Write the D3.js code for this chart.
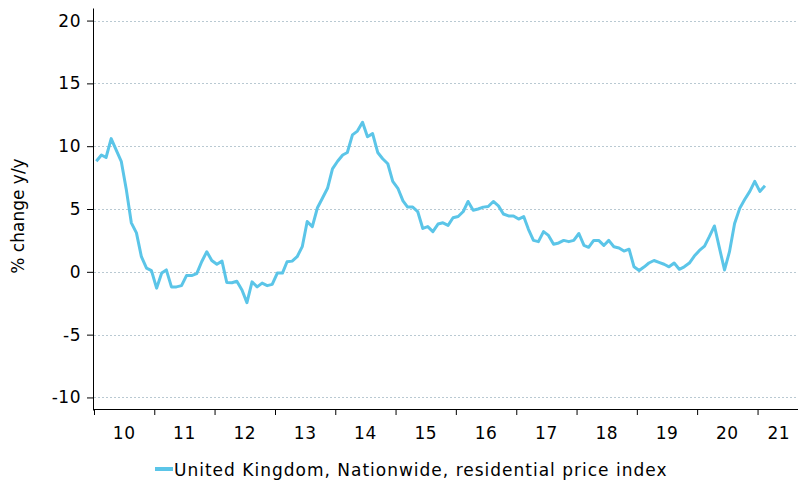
<!DOCTYPE html>
<html>
<head>
<meta charset="utf-8">
<script src="https://cdn.jsdelivr.net/npm/d3@7"></script>
<style>
  body { margin: 0; background: #fff; }
  text { font-family: "DejaVu Sans", Verdana, sans-serif; }
</style>
</head>
<body>
<div id="canvas"></div>
<script>
// Constants
const w = 798;
const h = 482;
const lineColor = "#5bc5e8";

// Data: Nationwide house prices, % change y/y, monthly from Jan 2010
const startYear = 2010;
const yoyChange = [
  8.8, 9.3, 9.1, 10.6, 9.7, 8.8, 6.6, 3.9, 3.1, 1.2, 0.3, 0.1,          // 2010
  -1.3, -0.1, 0.15, -1.2, -1.2, -1.1, -0.3, -0.3, -0.15, 0.8, 1.6, 0.9, // 2011
  0.6, 0.85, -0.85, -0.87, -0.75, -1.45, -2.45, -0.8, -1.2, -0.9, -1.1, -1.0, // 2012
  -0.1, -0.1, 0.8, 0.85, 1.2, 2.0, 4.0, 3.6, 5.1, 5.85, 6.65, 8.2,     // 2013
  8.8, 9.3, 9.5, 10.9, 11.2, 11.9, 10.75, 11.0, 9.5, 9.0, 8.6, 7.2,    // 2014
  6.65, 5.65, 5.15, 5.15, 4.8, 3.45, 3.6, 3.2, 3.8, 3.9, 3.7, 4.3,     // 2015
  4.4, 4.8, 5.6, 4.9, 5.0, 5.15, 5.2, 5.6, 5.25, 4.6, 4.45, 4.45,      // 2016
  4.2, 4.4, 3.4, 2.5, 2.4, 3.2, 2.9, 2.2, 2.3, 2.5, 2.4, 2.5,          // 2017
  3.05, 2.1, 1.95, 2.5, 2.5, 2.1, 2.5, 2.0, 1.9, 1.65, 1.8, 0.4,       // 2018
  0.1, 0.4, 0.7, 0.9, 0.75, 0.6, 0.4, 0.7, 0.2, 0.4, 0.7, 1.25,        // 2019
  1.7, 2.05, 2.8, 3.65, 1.9, 0.15, 1.6, 3.85, 5.05, 5.75, 6.4, 7.2,    // 2020
  6.4, 6.85                                                            // 2021
];
const yearLabels = ["10", "11", "12", "13", "14", "15", "16", "17", "18", "19", "20", "21"];
const yTicks = [-10, -5, 0, 5, 10, 15, 20];
const legendLabel = "United Kingdom, Nationwide, residential price index";
const yTitle = "% change y/y";

const series = yoyChange.map((v, i) => ({
  date: new Date(startYear, i, 15),
  value: v
}));

// Scales
const x = d3.scaleTime()
  .domain([new Date(2010, 0, 1), new Date(2021, 8, 15)])
  .range([94, 800]);
const y = d3.scaleLinear().domain([-11, 21]).range([410, 8]);

// SVG setup
const svg = d3.select("#canvas").append("svg")
  .attr("width", w)
  .attr("height", h)
  .style("background-color", "white");

// Gridlines
svg.append("g")
  .selectAll("line")
  .data(yTicks)
  .join("line")
  .attr("x1", 94)
  .attr("x2", w)
  .attr("y1", d => Math.round(y(d)) + 0.5)
  .attr("y2", d => Math.round(y(d)) + 0.5)
  .attr("stroke", "#b9c9d2")
  .attr("stroke-width", 1)
  .attr("stroke-dasharray", "2,2");

// Y axis
const yAxisGroup = svg.append("g")
  .attr("transform", "translate(93,0)")
  .call(d3.axisLeft(y).tickValues(yTicks).tickFormat(d => String(d))
    .tickSize(6).tickSizeOuter(0).tickPadding(6));
yAxisGroup.selectAll("path, line").attr("stroke", "#000");
yAxisGroup.selectAll(".tick text")
  .attr("fill", "#000")
  .style("font-size", "17px")
  .style("letter-spacing", "0.5px");

// X axis
const yearStarts = yearLabels.map((d, i) => new Date(startYear + i, 0, 1));
const xAxisGroup = svg.append("g")
  .attr("transform", "translate(0,409)")
  .call(d3.axisBottom(x).tickValues(yearStarts).tickFormat("").tickSize(6).tickSizeOuter(0));
xAxisGroup.selectAll("path, line").attr("stroke", "#000");
xAxisGroup.select(".domain").attr("d", `M93.5,0.5H${w}`);

svg.append("g")
  .selectAll("text")
  .data(yearLabels)
  .join("text")
  .attr("x", (d, i) => {
    const a = x(yearStarts[i]);
    const b = Math.min(x(new Date(startYear + i + 1, 0, 1)), 800);
    return (a + b) / 2;
  })
  .attr("y", 439)
  .attr("text-anchor", "middle")
  .style("font-size", "17px")
  .style("letter-spacing", "0.5px")
  .attr("fill", "#000")
  .text(d => d);

// Y title
svg.append("text")
  .attr("transform", "translate(24,216) rotate(-90)")
  .attr("text-anchor", "middle")
  .style("font-size", "17px")
  .attr("fill", "#000")
  .text(yTitle);

// Line
svg.append("path")
  .datum(series)
  .attr("fill", "none")
  .attr("stroke", lineColor)
  .attr("stroke-width", 3)
  .attr("stroke-linejoin", "round")
  .attr("d", d3.line().x(d => x(d.date)).y(d => y(d.value)));

// Legend
svg.append("rect")
  .attr("x", 155)
  .attr("y", 467)
  .attr("width", 18)
  .attr("height", 4)
  .attr("fill", lineColor);
svg.append("text")
  .attr("x", 174)
  .attr("y", 476)
  .style("font-size", "17px")
  .style("letter-spacing", "1px")
  .attr("fill", "#000")
  .text(legendLabel);
</script>
</body>
</html>
